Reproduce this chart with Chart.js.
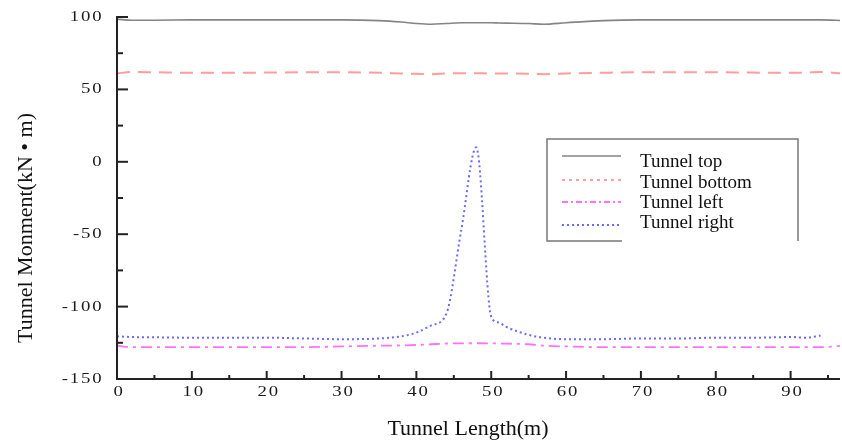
<!DOCTYPE html>
<html>
<head>
<meta charset="utf-8">
<script src="https://cdn.jsdelivr.net/npm/chart.js@4.4.1/dist/chart.umd.min.js"></script>
<style>
  html, body { margin: 0; padding: 0; background: #fff; }
  #wrap { width: 842px; height: 443px; position: relative; }
</style>
</head>
<body>
<div id="wrap"><canvas id="moment-chart"></canvas></div>
<script>
// Tunnel bending moment along the tunnel length
const positions   = [0, 2, 5, 10, 15, 20, 25, 30, 35, 38, 40, 42, 44, 46, 48, 50, 51, 52, 55, 57, 60, 65, 70, 75, 80, 85, 90, 92, 94, 97];
const tunnelTop    = [98.5, 97.8, 97.8, 98, 98, 98, 98, 98, 97.5, 96.5, 95.5, 95, 95.5, 96, 96, 96, 95.9, 95.8, 95.5, 95, 96, 97.5, 98, 98, 98, 98, 98, 98, 98, 97.5];
const tunnelBottom = [61, 62, 61.8, 61.5, 61.5, 61.6, 61.8, 61.8, 61.5, 61, 60.8, 60.5, 61, 61.2, 61.2, 61, 61, 61, 60.8, 60.5, 61, 61.5, 61.8, 61.8, 61.8, 61.6, 61.5, 61.6, 62, 61];
const tunnelLeft   = [-127, -128, -128, -128, -128, -128, -128, -127.5, -127, -126.8, -126.5, -126, -125.5, -125.4, -125.3, -125.4, -125.5, -125.6, -126, -127, -127.5, -128, -128, -128, -128, -128, -128, -128, -128, -127];
const tunnelRight  = [-120.5, -121, -121.2, -121.5, -121.5, -121.5, -122, -122.5, -122, -120.5, -118, -113, -105, -47, 10, -107, -111, -114, -119.5, -121.5, -122.5, -122.5, -122, -122, -121.5, -121.5, -121, -121.5, -120, null];

const yTicks = [100, 50, 0, -50, -100, -150];
const xTicks = [0, 10, 20, 30, 40, 50, 60, 70, 80, 90];

const serif = '"Liberation Serif", "Times New Roman", serif';

function pairs(ys) {
    return positions.map((x, i) => ({ x: x, y: ys[i] }));
}

const series = [
    { label: 'Tunnel top',    data: tunnelTop,    color: '#858585', dash: [],            legendDash: [],           width: 1.6 },
    { label: 'Tunnel bottom', data: tunnelBottom, color: '#ff9c9c', dash: [13, 8],       legendDash: [3, 4],       width: 2 },
    { label: 'Tunnel left',   data: tunnelLeft,   color: '#ff70ff', dash: [11, 5, 3, 5], legendDash: [6, 3, 2, 3], width: 1.8 },
    { label: 'Tunnel right',  data: tunnelRight,  color: '#6a6aff', dash: [2, 3],        legendDash: [2, 3],       width: 2 }
];

// wide, squat numerals for the tick labels
function tickText(ctx, text, x, y) {
    ctx.save();
    ctx.translate(x, y);
    ctx.scale(1.25, 1);
    ctx.fillText(text, 0, 0);
    ctx.restore();
}

// axis lines, inward ticks, tick labels, axis titles and the boxed legend
const decorations = {
    id: 'decorations',
    afterDraw(chart) {
        const ctx = chart.ctx;
        const xs = chart.scales.x;
        const ys = chart.scales.y;
        const area = chart.chartArea;
        ctx.save();
        ctx.strokeStyle = '#222';
        ctx.lineWidth = 2;
        ctx.beginPath();
        ctx.moveTo(area.left, area.top - 1);
        ctx.lineTo(area.left, area.bottom);
        ctx.lineTo(area.right, area.bottom);
        ctx.stroke();
        for (let v = -150; v <= 100; v += 25) {
            const py = ys.getPixelForValue(v);
            const len = (v % 50 === 0) ? 11 : 6;
            ctx.beginPath();
            ctx.moveTo(area.left, py);
            ctx.lineTo(area.left + len, py);
            ctx.stroke();
        }
        for (let v = 5; v <= 95; v += 5) {
            const px = xs.getPixelForValue(v);
            const len = (v % 10 === 0) ? 8 : 4;
            ctx.beginPath();
            ctx.moveTo(px, area.bottom);
            ctx.lineTo(px, area.bottom - len);
            ctx.stroke();
        }

        ctx.fillStyle = '#1a1a1a';
        ctx.font = '15px ' + serif;
        ctx.letterSpacing = '1.5px';
        ctx.textBaseline = 'middle';
        ctx.textAlign = 'right';
        yTicks.forEach(v => tickText(ctx, String(v), 103.5, ys.getPixelForValue(v)));
        ctx.textAlign = 'center';
        xTicks.forEach(v => tickText(ctx, String(v), xs.getPixelForValue(v) + 2, 392));
        ctx.letterSpacing = '0px';

        // axis titles
        ctx.fillStyle = '#111';
        ctx.font = '22px ' + serif;
        ctx.fillText('Tunnel Length(m)', 468, 429);
        ctx.save();
        ctx.translate(26, 228);
        ctx.rotate(-Math.PI / 2);
        ctx.fillText('Tunnel Monment(kN \u2022 m)', 0, 0);
        ctx.restore();

        // legend frame (bottom edge only reaches past the samples)
        ctx.strokeStyle = '#777';
        ctx.lineWidth = 1.5;
        ctx.beginPath();
        ctx.moveTo(622, 241);
        ctx.lineTo(547, 241);
        ctx.lineTo(547, 139);
        ctx.lineTo(798, 139);
        ctx.lineTo(798, 241);
        ctx.stroke();
        const sampleRows = [156, 180, 202, 225];
        const textRows = [162, 183, 203, 223];
        ctx.font = '19px ' + serif;
        ctx.textAlign = 'left';
        series.forEach((s, i) => {
            ctx.strokeStyle = s.color;
            ctx.lineWidth = s.width;
            ctx.setLineDash(s.legendDash);
            ctx.beginPath();
            ctx.moveTo(562, sampleRows[i]);
            ctx.lineTo(621, sampleRows[i]);
            ctx.stroke();
            ctx.setLineDash([]);
            ctx.fillStyle = '#111';
            ctx.fillText(s.label, 640, textRows[i]);
        });
        ctx.restore();
    }
};

new Chart(document.getElementById('moment-chart'), {
    type: 'line',
    data: {
        datasets: series.map(s => ({
            label: s.label,
            data: pairs(s.data),
            borderColor: s.color,
            borderWidth: s.width,
            borderDash: s.dash,
            pointRadius: 0,
            cubicInterpolationMode: 'monotone',
            fill: false,
            spanGaps: false
        }))
    },
    options: {
        responsive: true,
        maintainAspectRatio: false,
        animation: false,
        layout: { padding: { top: 17, right: 2, left: 0, bottom: 0 } },
        plugins: {
            legend: { display: false },
            tooltip: { enabled: false }
        },
        scales: {
            x: {
                type: 'linear',
                min: 0,
                max: 96.6,
                grid: { display: false, drawTicks: false },
                border: { display: false },
                ticks: { display: false },
                afterFit(scale) { scale.height = 64; }
            },
            y: {
                min: -150,
                max: 100,
                grid: { display: false, drawTicks: false },
                border: { display: false },
                ticks: { display: false },
                afterFit(scale) { scale.width = 117; }
            }
        }
    },
    plugins: [decorations]
});
</script>
</body>
</html>
